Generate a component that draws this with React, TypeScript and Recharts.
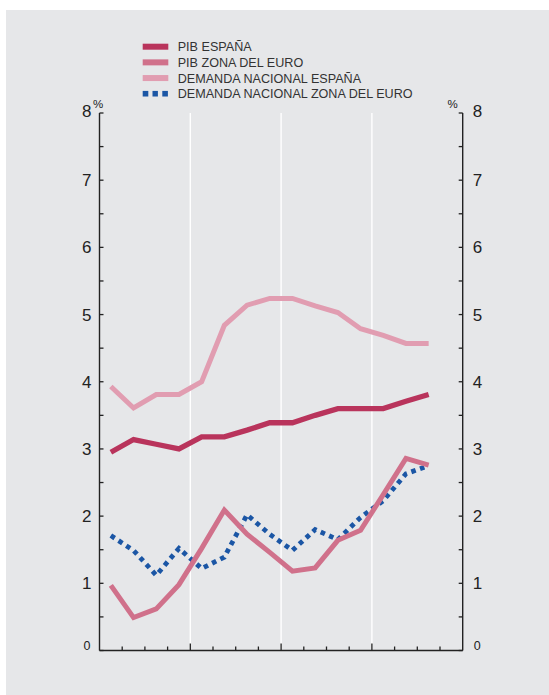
import React from 'react';
import { LineChart, Line, XAxis, YAxis, CartesianGrid, Legend } from 'recharts';

// Quarter positions (centre of each quarter slot) on a 16-quarter axis
const quarterX = [0.5, 1.5, 2.5, 3.5, 4.5, 5.5, 6.5, 7.5, 8.5, 9.5, 10.5, 11.5, 12.5, 13.5, 14.5];

const pibEspana = [2.95, 3.14, 3.07, 3.0, 3.18, 3.18, 3.28, 3.39, 3.39, 3.5, 3.6, 3.6, 3.6, 3.71, 3.81];
const pibZonaEuro = [0.97, 0.49, 0.62, 0.98, 1.52, 2.09, 1.73, 1.46, 1.18, 1.23, 1.64, 1.79, 2.32, 2.86, 2.76];
const demandaEspana = [3.93, 3.61, 3.81, 3.81, 4.0, 4.84, 5.14, 5.24, 5.24, 5.13, 5.03, 4.79, 4.69, 4.57, 4.57];
const demandaZonaEuro = [1.71, 1.49, 1.12, 1.52, 1.22, 1.39, 2.02, 1.73, 1.49, 1.8, 1.65, 1.98, 2.23, 2.63, 2.75];

const seriesNames = ['PIB ESPAÑA', 'PIB ZONA DEL EURO', 'DEMANDA NACIONAL ESPAÑA', 'DEMANDA NACIONAL ZONA DEL EURO'];
const seriesKeys = ['pibEspana', 'pibZonaEuro', 'demandaEspana', 'demandaZonaEuro'];
const seriesColors = ['#b9345c', '#d0718b', '#e19db1', '#1b56a5'];

const yTicks = [0, 0.5, 1, 1.5, 2, 2.5, 3, 3.5, 4, 4.5, 5, 5.5, 6, 6.5, 7, 7.5, 8];
const xTicks = [1, 2, 3, 4, 5, 6, 7, 8, 9, 10, 11, 12, 13, 14, 15];
const xGrid = [4, 8, 12];

const data = quarterX.map((x, i) => ({
  x,
  pibEspana: pibEspana[i],
  pibZonaEuro: pibZonaEuro[i],
  demandaEspana: demandaEspana[i],
  demandaZonaEuro: demandaZonaEuro[i],
}));

const FONT = "'Liberation Sans', Arial, sans-serif";
const AXIS = '#222';

const applyScale = (axis: any, v: number): number => {
  const s = axis && axis.scale;
  if (typeof s === 'function') return s(v);
  if (s && typeof s.map === 'function') return s.map(v);
  if (s && typeof s.apply === 'function') return s.apply(v);
  return 0;
};

const LeftTick = (props: any) => {
  const { x, y, payload } = props;
  const v = payload.value;
  const isInt = Number.isInteger(v);
  return (
    <g>
      <line x1={x} x2={x + 4} y1={y} y2={y} stroke={AXIS} strokeWidth={1.3} />
      {isInt && v !== 0 && (
        <text x={x - 8} y={y + 6 + (v === 8 ? -2.5 : 0)} textAnchor="end" fontSize={17} fontFamily={FONT} fill={AXIS}>
          {v}
        </text>
      )}
      {v === 0 && (
        <text x={x - 9} y={y - 0.5} textAnchor="end" fontSize={12.5} fontFamily={FONT} fill={AXIS}>
          {v}
        </text>
      )}
      {v === 8 && (
        <text x={x - 6.5} y={y - 5} textAnchor="start" fontSize={11.5} fontFamily={FONT} fill={AXIS}>
          %
        </text>
      )}
    </g>
  );
};

const RightTick = (props: any) => {
  const { x, y, payload } = props;
  const v = payload.value;
  const isInt = Number.isInteger(v);
  return (
    <g>
      <line x1={x} x2={x - 4} y1={y} y2={y} stroke={AXIS} strokeWidth={1.3} />
      {isInt && v !== 0 && (
        <text x={x + 10} y={y + 6 + (v === 8 ? -2.5 : 0)} textAnchor="start" fontSize={17} fontFamily={FONT} fill={AXIS}>
          {v}
        </text>
      )}
      {v === 0 && (
        <text x={x + 11} y={y - 0.5} textAnchor="start" fontSize={12.5} fontFamily={FONT} fill={AXIS}>
          {v}
        </text>
      )}
      {v === 8 && (
        <text x={x - 5} y={y - 5} textAnchor="end" fontSize={11.5} fontFamily={FONT} fill={AXIS}>
          %
        </text>
      )}
    </g>
  );
};

const BottomTick = (props: any) => {
  const { x, y, payload } = props;
  const major = payload.value % 4 === 0;
  return <line x1={x} x2={x} y1={y} y2={y - (major ? 7 : 4)} stroke={AXIS} strokeWidth={1.3} />;
};

const LegendContent = () => (
  <svg width={320} height={62} style={{ display: 'block', overflow: 'visible' }}>
    {seriesNames.map((name, i) => {
      const cy = 6.7 + i * 15.67;
      const color = seriesColors[i];
      return (
        <g key={name}>
          {i < 3 ? (
            <rect x={0.7} y={cy - 3} width={25.6} height={6} fill={color} />
          ) : (
            <g>
              <rect x={0.7} y={cy - 2.8} width={5.6} height={5.6} fill={color} />
              <rect x={10.5} y={cy - 2.8} width={5.4} height={5.6} fill={color} />
              <rect x={20.3} y={cy - 2.8} width={5.6} height={5.6} fill={color} />
            </g>
          )}
          <text x={35.7} y={cy + 4.5} fontSize={12.6} fontFamily={FONT} fill="#333">
            {name}
          </text>
        </g>
      );
    })}
  </svg>
);

export default function App() {
  return (
    <div style={{ position: 'absolute', left: 0, top: 0, width: 549, height: 695, background: '#fff', overflow: 'hidden' }}>
      <div style={{ position: 'absolute', left: 6, top: 10, right: 0, bottom: 0, background: '#e6e7e9' }} />
      <div style={{ position: 'absolute', left: 0, top: 0 }}>
        <LineChart width={549} height={695} data={data} margin={{ top: 113, right: 6.3, bottom: 34.5, left: 9.5 }}>
          <CartesianGrid
            horizontal={false}
            stroke="#ffffff"
            strokeWidth={1.4}
            verticalCoordinatesGenerator={(p: any) => xGrid.map((v) => applyScale(p.xAxis, v))}
          />
          <XAxis
            type="number"
            dataKey="x"
            domain={[0, 16]}
            ticks={xTicks}
            interval={0}
            height={10}
            tickSize={0}
            tickMargin={0}
            tickLine={false}
            axisLine={{ stroke: AXIS, strokeWidth: 1.4 }}
            tick={<BottomTick />}
          />
          <YAxis
            yAxisId="left"
            orientation="left"
            type="number"
            domain={[0, 8]}
            ticks={yTicks}
            interval={0}
            width={90}
            tickSize={0}
            tickMargin={0}
            tickLine={false}
            axisLine={{ stroke: AXIS, strokeWidth: 1.4 }}
            tick={<LeftTick />}
          />
          <YAxis
            yAxisId="right"
            orientation="right"
            type="number"
            domain={[0, 8]}
            ticks={yTicks}
            interval={0}
            width={80}
            tickSize={0}
            tickMargin={0}
            tickLine={false}
            allowDataOverflow
            axisLine={{ stroke: AXIS, strokeWidth: 1.4 }}
            tick={<RightTick />}
          />
          <Legend
            layout="vertical"
            align="center"
            verticalAlign="middle"
            wrapperStyle={{ position: 'absolute', left: 142, top: 40, width: 320, height: 62 }}
            content={<LegendContent />}
          />
          <Line yAxisId="left" type="linear" dataKey={seriesKeys[2]} name={seriesNames[2]} stroke={seriesColors[2]} strokeWidth={5} dot={false} activeDot={false} isAnimationActive={false} strokeLinejoin="miter" />
          <Line yAxisId="left" type="linear" dataKey={seriesKeys[0]} name={seriesNames[0]} stroke={seriesColors[0]} strokeWidth={5.3} dot={false} activeDot={false} isAnimationActive={false} strokeLinejoin="miter" />
          <Line yAxisId="left" type="linear" dataKey={seriesKeys[3]} name={seriesNames[3]} stroke={seriesColors[3]} strokeWidth={4.8} strokeDasharray="4.6 4.6" dot={false} activeDot={false} isAnimationActive={false} />
          <Line yAxisId="left" type="linear" dataKey={seriesKeys[1]} name={seriesNames[1]} stroke={seriesColors[1]} strokeWidth={5} dot={false} activeDot={false} isAnimationActive={false} strokeLinejoin="miter" />
        </LineChart>
      </div>
    </div>
  );
}
